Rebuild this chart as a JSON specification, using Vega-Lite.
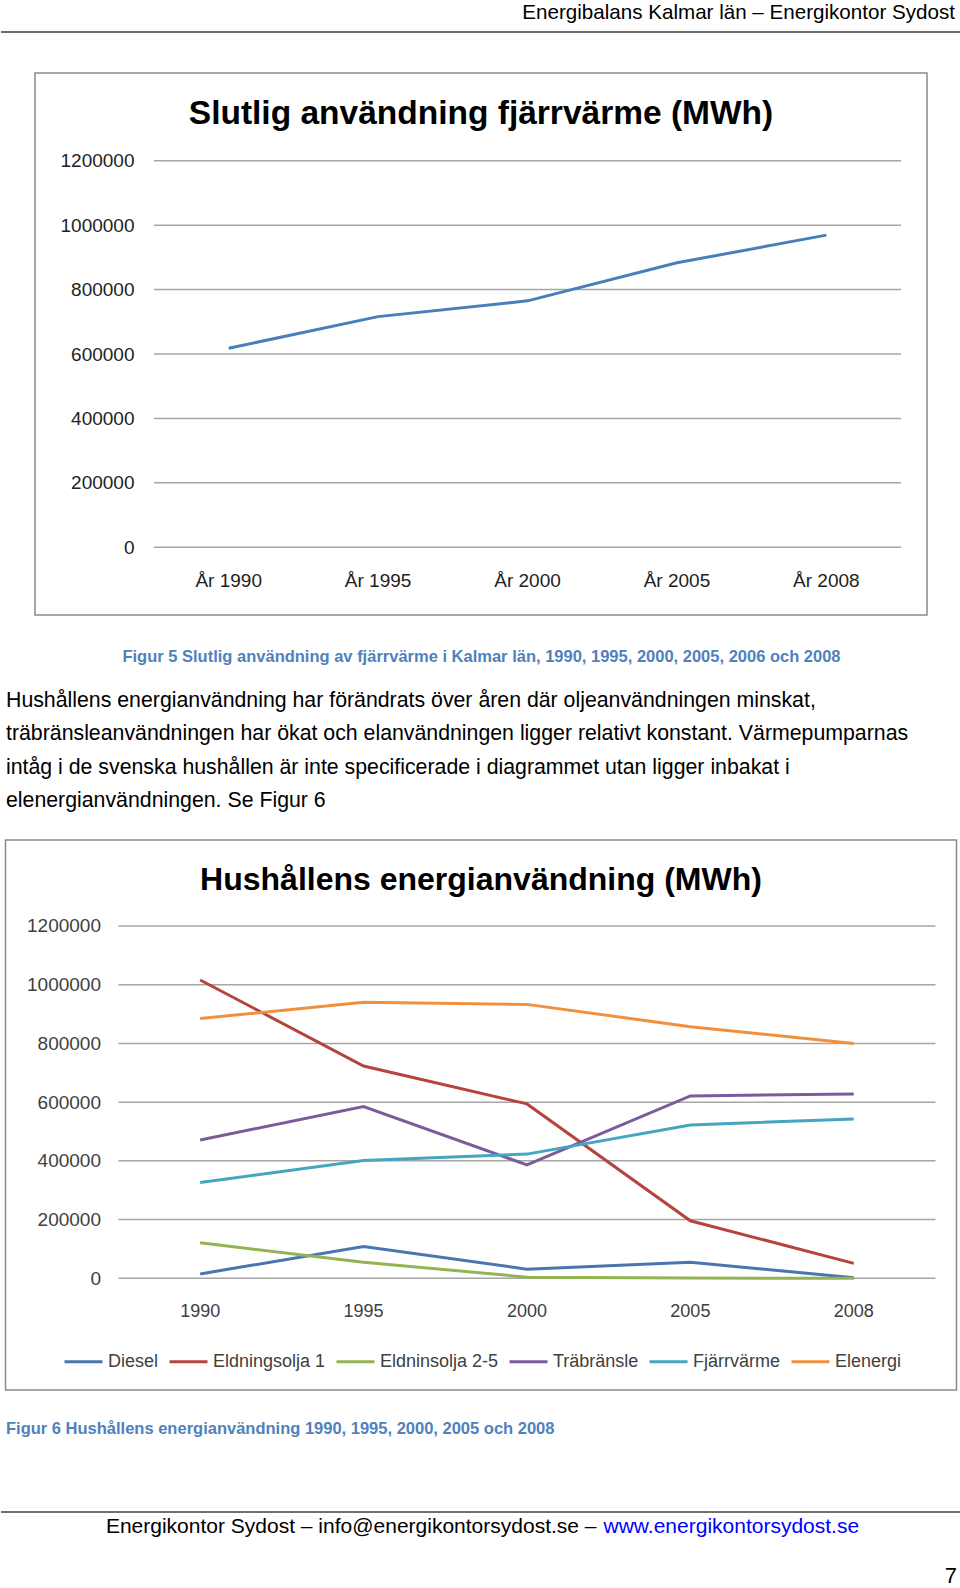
{
  "$schema": "https://vega.github.io/schema/vega-lite/v6.json",
  "padding": 0,
  "background": "white",
  "spacing": 41,
  "center": true,
  "bounds": "flush",
  "config": {
    "view": {"stroke": null},
    "font": "Liberation Sans",
    "title": {"font": "Liberation Sans", "color": "#000000"},
    "axis": {"labelFont": "Liberation Sans", "titleFont": "Liberation Sans"},
    "legend": {"labelFont": "Liberation Sans"}
  },
  "datasets": {
    "fv": [
      {"year": "År 1990", "v": 618000},
      {"year": "År 1995", "v": 716000},
      {"year": "År 2000", "v": 765000},
      {"year": "År 2005", "v": 883000},
      {"year": "År 2008", "v": 969000}
    ],
    "grid1": [
      {"v": 0, "a": "År 1990", "b": "År 2008"},
      {"v": 200000, "a": "År 1990", "b": "År 2008"},
      {"v": 400000, "a": "År 1990", "b": "År 2008"},
      {"v": 600000, "a": "År 1990", "b": "År 2008"},
      {"v": 800000, "a": "År 1990", "b": "År 2008"},
      {"v": 1000000, "a": "År 1990", "b": "År 2008"},
      {"v": 1200000, "a": "År 1990", "b": "År 2008"}
    ],
    "grid2": [
      {"v": 0, "a": "1990", "b": "2008"},
      {"v": 200000, "a": "1990", "b": "2008"},
      {"v": 400000, "a": "1990", "b": "2008"},
      {"v": 600000, "a": "1990", "b": "2008"},
      {"v": 800000, "a": "1990", "b": "2008"},
      {"v": 1000000, "a": "1990", "b": "2008"},
      {"v": 1200000, "a": "1990", "b": "2008"}
    ],
    "hh": [
      {"type": "Diesel", "year": "1990", "v": 15000},
      {"type": "Diesel", "year": "1995", "v": 108000},
      {"type": "Diesel", "year": "2000", "v": 31000},
      {"type": "Diesel", "year": "2005", "v": 55000},
      {"type": "Diesel", "year": "2008", "v": 2000},
      {"type": "Eldningsolja 1", "year": "1990", "v": 1016000},
      {"type": "Eldningsolja 1", "year": "1995", "v": 723000},
      {"type": "Eldningsolja 1", "year": "2000", "v": 594000},
      {"type": "Eldningsolja 1", "year": "2005", "v": 196000},
      {"type": "Eldningsolja 1", "year": "2008", "v": 51000},
      {"type": "Eldninsolja 2-5", "year": "1990", "v": 121000},
      {"type": "Eldninsolja 2-5", "year": "1995", "v": 55000},
      {"type": "Eldninsolja 2-5", "year": "2000", "v": 4000},
      {"type": "Eldninsolja 2-5", "year": "2005", "v": 1000},
      {"type": "Eldninsolja 2-5", "year": "2008", "v": 0},
      {"type": "Träbränsle", "year": "1990", "v": 471000},
      {"type": "Träbränsle", "year": "1995", "v": 585000},
      {"type": "Träbränsle", "year": "2000", "v": 386000},
      {"type": "Träbränsle", "year": "2005", "v": 621000},
      {"type": "Träbränsle", "year": "2008", "v": 628000},
      {"type": "Fjärrvärme", "year": "1990", "v": 326000},
      {"type": "Fjärrvärme", "year": "1995", "v": 401000},
      {"type": "Fjärrvärme", "year": "2000", "v": 423000},
      {"type": "Fjärrvärme", "year": "2005", "v": 522000},
      {"type": "Fjärrvärme", "year": "2008", "v": 543000},
      {"type": "Elenergi", "year": "1990", "v": 885000},
      {"type": "Elenergi", "year": "1995", "v": 940000},
      {"type": "Elenergi", "year": "2000", "v": 933000},
      {"type": "Elenergi", "year": "2005", "v": 857000},
      {"type": "Elenergi", "year": "2008", "v": 800000}
    ]
  },
  "vconcat": [
    {
      "width": 960,
      "height": 32,
      "title": {"text": "Energibalans Kalmar län – Energikontor Sydost", "orient": "top", "anchor": "end", "frame": "group", "offset": -33.5, "baseline": "middle", "fontSize": 20.6, "fontWeight": "normal", "color": "#000000", "dx": -6},
      "data": {"values": [{"pos": 0}]},
      "mark": {"type": "rule", "color": "#6e6e6e", "strokeWidth": 2},
      "encoding": {"y": {"field": "pos", "type": "quantitative", "scale": {"domain": [0, 1]}, "axis": null}}
    },
    {
      "width": 892,
      "height": 542,
      "view": {"stroke": "#8a8a8a", "strokeWidth": 1.5},
      "title": {"text": "Slutlig användning fjärrvärme (MWh)", "orient": "top", "anchor": "middle", "frame": "group", "offset": -74, "baseline": "middle", "fontSize": 33.5, "fontWeight": "bold", "color": "#000000"},
      "layer": [
        {
          "data": {"name": "grid1"},
          "mark": {"type": "rule", "color": "#a6a6a6", "strokeWidth": 1.5},
          "encoding": {
            "x": {"field": "a", "type": "nominal", "bandPosition": 0,
              "scale": {"type": "band", "domain": ["År 1990", "År 1995", "År 2000", "År 2005", "År 2008"], "paddingInner": 0, "paddingOuter": 0.485, "align": 0.821},
              "axis": {"orient": "bottom", "offset": -67.7, "domain": false, "ticks": false, "tickSize": 0, "grid": false, "labelPadding": 33.5, "labelBaseline": "middle", "labelAngle": 0, "labelFontSize": 19, "labelColor": "#222222",
                "title": "Figur 5 Slutlig användning av fjärrvärme i Kalmar län, 1990, 1995, 2000, 2005, 2006 och 2008", "titleFontSize": 16.5, "titleFontWeight": "bold", "titleColor": "#4F81BD", "titlePadding": 58}},
            "x2": {"field": "b", "bandPosition": 1},
            "y": {"field": "v", "type": "quantitative",
              "scale": {"domain": [-210140, 1472230], "nice": false, "zero": false},
              "axis": {"orient": "left", "offset": -119, "domain": false, "ticks": false, "tickSize": 0, "grid": false, "values": [0, 200000, 400000, 600000, 800000, 1000000, 1200000], "format": "d", "labelPadding": 20, "labelFontSize": 19, "labelColor": "#222222", "title": null}}
          }
        },
        {
          "data": {"name": "fv"},
          "mark": {"type": "line", "color": "#4A7EBB", "strokeWidth": 3},
          "encoding": {
            "x": {"field": "year", "type": "nominal",
              "scale": {"type": "band", "domain": ["År 1990", "År 1995", "År 2000", "År 2005", "År 2008"], "paddingInner": 0, "paddingOuter": 0.485, "align": 0.821},
              "axis": {"orient": "bottom", "offset": -67.7, "domain": false, "ticks": false, "tickSize": 0, "grid": false, "labelPadding": 33.5, "labelBaseline": "middle", "labelAngle": 0, "labelFontSize": 19, "labelColor": "#222222",
                "title": "Figur 5 Slutlig användning av fjärrvärme i Kalmar län, 1990, 1995, 2000, 2005, 2006 och 2008", "titleFontSize": 16.5, "titleFontWeight": "bold", "titleColor": "#4F81BD", "titlePadding": 58}},
            "y": {"field": "v", "type": "quantitative",
              "scale": {"domain": [-210140, 1472230], "nice": false, "zero": false},
              "axis": {"orient": "left", "offset": -119, "domain": false, "ticks": false, "tickSize": 0, "grid": false, "values": [0, 200000, 400000, 600000, 800000, 1000000, 1200000], "format": "d", "labelPadding": 20, "labelFontSize": 19, "labelColor": "#222222", "title": null}}
          }
        }
      ]
    },
    {
      "width": 950,
      "height": 143,
      "title": {"text": [
        "Hushållens energianvändning har förändrats över åren där oljeanvändningen minskat,",
        "träbränsleanvändningen har ökat och elanvändningen ligger relativt konstant. Värmepumparnas",
        "intåg i de svenska hushållen är inte specificerade i diagrammet utan ligger inbakat i",
        "elenergianvändningen. Se Figur 6"
      ], "orient": "top", "anchor": "start", "frame": "group", "offset": -166.2, "baseline": "middle", "fontSize": 21.3, "fontWeight": "normal", "lineHeight": 33.3, "color": "#000000"},
      "data": {"values": []},
      "mark": "point",
      "encoding": {}
    },
    {
      "width": 951,
      "height": 550,
      "view": {"stroke": "#8a8a8a", "strokeWidth": 1.5},
      "title": {"text": "Hushållens energianvändning (MWh)", "orient": "top", "anchor": "middle", "frame": "group", "offset": -72, "baseline": "middle", "fontSize": 32, "fontWeight": "bold", "color": "#000000"},
      "layer": [
        {
          "data": {"name": "grid2"},
          "mark": {"type": "rule", "color": "#a6a6a6", "strokeWidth": 1.5},
          "encoding": {
            "x": {"field": "a", "type": "nominal", "bandPosition": 0,
              "scale": {"type": "band", "domain": ["1990", "1995", "2000", "2005", "2008"], "paddingInner": 0, "paddingOuter": 0.41, "align": 0.843},
              "axis": {"orient": "bottom", "offset": -111.7, "domain": false, "ticks": false, "tickSize": 0, "grid": false, "labelPadding": 33.4, "labelBaseline": "middle", "labelAngle": 0, "labelFontSize": 18, "labelColor": "#404040", "title": null}},
            "x2": {"field": "b", "bandPosition": 1},
            "y": {"field": "v", "type": "quantitative",
              "scale": {"domain": [-380470, 1492930], "nice": false, "zero": false},
              "axis": {"orient": "left", "offset": -113, "domain": false, "ticks": false, "tickSize": 0, "grid": false, "values": [0, 200000, 400000, 600000, 800000, 1000000, 1200000], "format": "d", "labelPadding": 18, "labelFontSize": 19, "labelColor": "#404040", "title": null}}
          }
        },
        {
          "data": {"name": "hh"},
          "mark": {"type": "line", "strokeWidth": 3},
          "encoding": {
            "x": {"field": "year", "type": "nominal",
              "scale": {"type": "band", "domain": ["1990", "1995", "2000", "2005", "2008"], "paddingInner": 0, "paddingOuter": 0.41, "align": 0.843},
              "axis": {"orient": "bottom", "offset": -111.7, "domain": false, "ticks": false, "tickSize": 0, "grid": false, "labelPadding": 33.4, "labelBaseline": "middle", "labelAngle": 0, "labelFontSize": 18, "labelColor": "#404040", "title": null}},
            "y": {"field": "v", "type": "quantitative",
              "scale": {"domain": [-380470, 1492930], "nice": false, "zero": false},
              "axis": {"orient": "left", "offset": -113, "domain": false, "ticks": false, "tickSize": 0, "grid": false, "values": [0, 200000, 400000, 600000, 800000, 1000000, 1200000], "format": "d", "labelPadding": 18, "labelFontSize": 19, "labelColor": "#404040", "title": null}},
            "color": {"field": "type", "type": "nominal",
              "scale": {"domain": ["Diesel", "Eldningsolja 1", "Eldninsolja 2-5", "Träbränsle", "Fjärrvärme", "Elenergi"],
                "range": ["#4A76B0", "#B5443F", "#93B352", "#7A5C9C", "#45A6BF", "#F0903F"]},
              "legend": {"orient": "none", "legendX": 62, "legendY": 1341, "direction": "horizontal", "title": null, "symbolType": "stroke", "symbolSize": 1444, "symbolStrokeWidth": 3, "labelFontSize": 18, "labelOffset": 4, "columnPadding": 4, "labelColor": "#404040", "padding": 0, "labelLimit": 0}}
          }
        }
      ]
    },
    {
      "width": 950,
      "height": 40,
      "title": {"text": "Figur 6 Hushållens energianvändning 1990, 1995, 2000, 2005 och 2008", "orient": "top", "anchor": "start", "frame": "group", "offset": -14.5, "baseline": "middle", "fontSize": 16.5, "fontWeight": "bold", "color": "#4F81BD"},
      "data": {"values": []},
      "mark": "point",
      "encoding": {}
    },
    {
      "width": 960,
      "height": 24,
      "title": {"text": "7", "orient": "top", "anchor": "end", "frame": "group", "offset": -87, "baseline": "middle", "fontSize": 22, "fontWeight": "normal", "color": "#000000", "dx": -4},
      "data": {"values": [{"pos": 1, "s": "sida", "e": "sida"}]},
      "mark": {"type": "rule", "color": "#404040", "strokeWidth": 1.5},
      "encoding": {
        "x": {"field": "s", "type": "nominal", "bandPosition": 0,
          "scale": {"type": "band", "domain": ["sida"], "paddingInner": 0, "paddingOuter": 0},
          "axis": {"orient": "bottom", "domain": false, "ticks": false, "labels": false, "grid": false,
            "title": "www.energikontorsydost.se", "titleX": 602, "titleY": -10, "titleAlign": "left", "titleAnchor": null, "titleBaseline": "middle", "titleFontSize": 21, "titleFontWeight": "normal", "titleColor": "#0000FF"}},
        "x2": {"field": "e", "bandPosition": 1},
        "y": {"field": "pos", "type": "quantitative", "scale": {"domain": [0, 1]},
          "axis": {"orient": "left", "domain": false, "ticks": false, "labels": false, "grid": false,
            "title": "Energikontor Sydost – info@energikontorsydost.se –", "titleAngle": 0, "titleX": 595, "titleY": 14, "titleAlign": "right", "titleBaseline": "middle", "titleFontSize": 21, "titleFontWeight": "normal", "titleColor": "#000000"}}
      }
    }
  ]
}
